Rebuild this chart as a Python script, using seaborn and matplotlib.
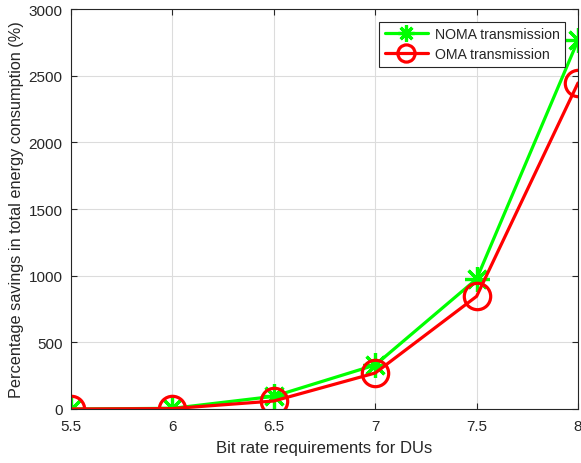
import matplotlib
matplotlib.use("Agg")
import matplotlib.pyplot as plt
import seaborn as sns
import pandas as pd

bit_rates = [5.5, 6, 6.5, 7, 7.5, 8]
noma_savings = [0, 5, 95, 330, 975, 2765]
oma_savings = [0, 3, 60, 270, 845, 2445]

sns.set_style("white")
plt.rcParams["font.family"] = ["Liberation Sans", "DejaVu Sans"]

fig = plt.figure(figsize=(5.81, 4.64), dpi=100)
ax = fig.add_axes([71 / 581, 1 - 410 / 464, 507 / 581, 400 / 464])

series = [
    ("NOMA transmission", noma_savings, "#00ff00", (8, 2, 0), 18),
    ("OMA transmission", oma_savings, "#ff0000", "o", 19),
]
for name, vals, color, marker, ms in series:
    df = pd.DataFrame({"rate": bit_rates, "saving": vals})
    sns.lineplot(data=df, x="rate", y="saving", ax=ax, color=color,
                 marker=marker, markersize=ms, markeredgewidth=2.3,
                 markerfacecolor="none", markeredgecolor=color,
                 linewidth=2.3, label=name)

ax.set_xlim(5.5, 8)
ax.set_ylim(0, 3000)
ax.set_xticks(bit_rates)
ax.set_xticklabels(["5.5", "6", "6.5", "7", "7.5", "8"])
ax.set_yticks([0, 500, 1000, 1500, 2000, 2500, 3000])
ax.grid(True, color="#dcdcdc", linewidth=0.8)
ax.tick_params(direction="in", length=4, color="#262626", labelsize=11,
               labelcolor="#262626", top=True, right=True, bottom=True, left=True)
ax.tick_params(axis="x", pad=7)
ax.tick_params(axis="y", pad=6)
for s in ax.spines.values():
    s.set_color("#262626")
    s.set_linewidth(0.8)

ax.set_xlabel("Bit rate requirements for DUs", fontsize=12, color="#262626",
              labelpad=5)
ax.set_ylabel("Percentage savings in total energy consumption (%)", fontsize=11.7,
              color="#262626", labelpad=3)

leg = ax.legend(loc="upper right", fontsize=10.2, frameon=True, fancybox=False,
                edgecolor="#262626", handlelength=3, borderpad=0.4,
                labelspacing=0.4, handletextpad=0.5, borderaxespad=0.9,
                markerscale=0.65)
leg.get_frame().set_linewidth(0.8)
leg.get_frame().set_alpha(1)

fig.savefig("out.png", dpi=100)
